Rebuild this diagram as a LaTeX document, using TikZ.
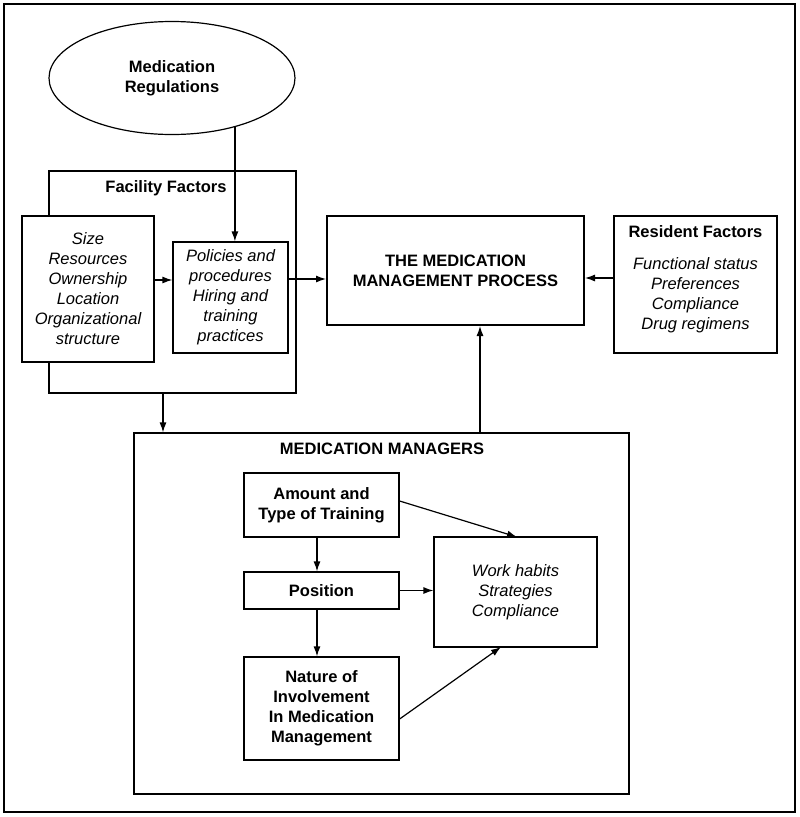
\documentclass[tikz,border=0pt]{standalone}
\usepackage{fontspec}
\setmainfont{Liberation Sans}
\usetikzlibrary{shapes.geometric,arrows.meta}
\newcommand{\fsz}{\fontsize{16.5}{20}\selectfont}
\tikzset{
 box/.style={draw,line width=1.2pt,align=center,inner sep=0pt},
 items/.style={align=center,font=\fsz\itshape},
 head/.style={align=center,font=\fsz\bfseries},
 arr/.style={-{Latex[length=10pt,width=7pt]},line width=1.2pt}
}

\begin{document}
\begin{tikzpicture}[x=1pt,y=-1pt]
\useasboundingbox (0,0) rectangle (800,817);
\draw[line width=1.4pt] (4,4) rectangle (795,812);
% regulations
\node[box,ellipse,minimum width=246pt,minimum height=113pt,head] (reg) at (172,78) {Medication\\Regulations};
% facility
\node[box,minimum width=247pt,minimum height=222pt] (fac) at (172.5,282) {};
\node[head] (facT) at (166,188) {Facility Factors};
\node[box,fill=white,minimum width=132pt,minimum height=146pt,items] (size) at (88,289)
 {Size\\Resources\\Ownership\\Location\\Organizational\\structure};
\node[box,minimum width=115pt,minimum height=111pt,items] (pol) at (230.5,297.5)
 {Policies and\\procedures\\Hiring and\\training\\practices};
% process
\node[box,line width=2pt,minimum width=257pt,minimum height=109pt,head] (proc) at (455.5,270.5)
 {THE MEDICATION\\MANAGEMENT PROCESS};
% resident
\node[box,minimum width=163pt,minimum height=137pt] (res) at (695.5,284.5) {};
\node[head] (resT) at (695.5,232) {Resident Factors};
\node[items] (resI) at (695.5,295) {Functional status\\Preferences\\Compliance\\Drug regimens};
% managers
\node[box,minimum width=495pt,minimum height=361pt] (man) at (381.5,613.5) {};
\node[head] (manT) at (382,449) {MEDICATION MANAGERS};
\node[box,minimum width=155pt,minimum height=64pt,head] (amt) at (321.5,505) {Amount and\\Type of Training};
\node[box,minimum width=155pt,minimum height=37pt,head] (pos) at (321.5,590.5) {Position};
\node[box,minimum width=155pt,minimum height=103pt,head] (nat) at (321.5,708.5)
 {Nature of\\Involvement\\In Medication\\Management};
\node[box,minimum width=163pt,minimum height=110pt,items] (work) at (515.5,592)
 {Work habits\\Strategies\\Compliance};
% arrows
\draw[arr] (reg.-38.5) -- (reg.-38.5 |- pol.north);
\draw[arr] (size.east |- 0,280) -- (pol.west |- 0,280);
\draw[arr] (pol.east |- 0,279) -- (proc.west |- 0,279);
\draw[arr] (res.west |- 0,278) -- (proc.east |- 0,278);
\draw[arr] (man.north -| 480,0) -- (proc.south -| 480,0);
\draw[arr] (fac.south -| 163,0) -- (man.north -| 163,0);
\draw[arr] (amt.south) ++(-4.5,0) coordinate (a1) -- (a1 |- pos.north);
\draw[arr] (pos.south) ++(-4.5,0) coordinate (a2) -- (a2 |- nat.north);
\draw[arr] (amt.east |- 0,501) -- (517,537);
\draw[arr] (pos.east) -- (work.west |- pos.east);
\draw[arr] (nat.east |- 0,719) -- (501,647);
\end{tikzpicture}
\end{document}
